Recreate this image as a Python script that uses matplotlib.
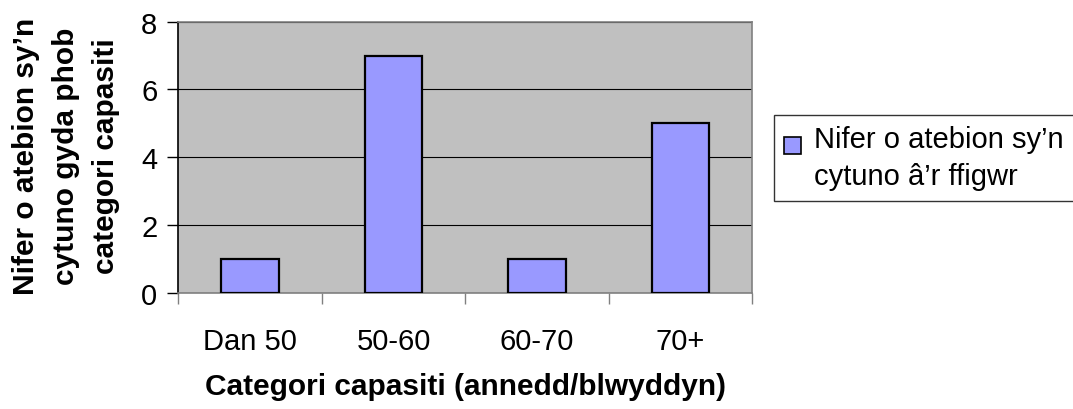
import numpy as np
import matplotlib
matplotlib.use('Agg')
import matplotlib.pyplot as plt
from matplotlib.patches import Rectangle
from matplotlib.legend_handler import HandlerBase

plt.rcParams['font.family'] = ['Liberation Sans', 'DejaVu Sans']

# Data
categories = ['Dan 50', '50-60', '60-70', '70+']
counts = [1, 7, 1, 5]
series_label = 'Nifer o atebion sy\u2019n\ncytuno \u00e2\u2019r ffigwr'
y_label = 'Nifer o atebion sy\u2019n\ncytuno gyda phob\ncategori capasiti'
x_label = 'Categori capasiti (annedd/blwyddyn)'

bar_color = '#9999FF'
plot_bg = '#C0C0C0'
frame_gray = '#808080'


class TopSquareHandler(HandlerBase):
    """Legend square aligned with the first line of a two-line label."""
    def create_artists(self, legend, orig_handle, xdescent, ydescent,
                       width, height, fontsize, trans):
        s = 0.58 * fontsize
        y0 = -ydescent + height / 2 + 0.45 * fontsize - s / 2
        r = Rectangle((-xdescent, y0), s, s, facecolor=bar_color,
                      edgecolor='black', linewidth=1.2, transform=trans)
        return [r]


fig = plt.figure(figsize=(10.73, 4.10), dpi=100)
fig.patch.set_facecolor('white')
ax = fig.add_axes([178.3 / 1073, 1 - 293.7 / 410, 574 / 1073, 271 / 410])
ax.set_facecolor(plot_bg)

x = np.arange(len(categories))
bars = ax.bar(x, counts, width=0.4, color=bar_color, edgecolor='black',
              linewidth=1.6, zorder=3, label=series_label)

ax.set_xlim(-0.5, len(categories) - 0.5)
ax.set_ylim(0, 8)
ax.set_yticks([0, 2, 4, 6, 8])
ax.yaxis.grid(True, color='black', linewidth=0.8, zorder=1)
ax.set_axisbelow(True)

# category labels at centres, tick marks at boundaries
ax.set_xticks(x)
ax.set_xticklabels(categories)
ax.set_xticks(np.arange(len(categories) + 1) - 0.5, minor=True)
ax.tick_params(axis='x', which='major', length=0, pad=25, labelsize=21)
ax.tick_params(axis='x', which='minor', length=8, width=1, color=frame_gray,
               direction='out')
ax.tick_params(axis='y', length=8, width=1, color='black', pad=7,
               labelsize=21)

for side in ['top', 'right', 'bottom']:
    ax.spines[side].set_color(frame_gray)
    ax.spines[side].set_linewidth(1.2)
ax.spines['left'].set_color('black')
ax.spines['left'].set_linewidth(1.2)

fig.text(66 / 1073, 1 - 156 / 410, y_label, rotation=90, ha='center',
         va='center', fontsize=21.5, fontweight='bold', linespacing=1.55,
         multialignment='center')
fig.text(465.5 / 1073, 1 - 387 / 410, x_label, ha='center', va='center',
         fontsize=21.5, fontweight='bold')

leg = ax.legend(handles=[bars], labels=[series_label],
                handler_map={type(bars): TopSquareHandler()},
                loc='upper left', bbox_to_anchor=(774 / 1073, 1 - 116 / 410),
                bbox_transform=fig.transFigure, borderaxespad=0,
                fontsize=21, frameon=True, fancybox=False, shadow=False,
                handlelength=0.58, handletextpad=0.45, borderpad=0.35,
                labelspacing=0.2)
leg.get_frame().set_edgecolor('black')
leg.get_frame().set_linewidth(1.0)
for t in leg.get_texts():
    t.set_linespacing(1.42)

fig.savefig('out.png', dpi=100, facecolor='white')
